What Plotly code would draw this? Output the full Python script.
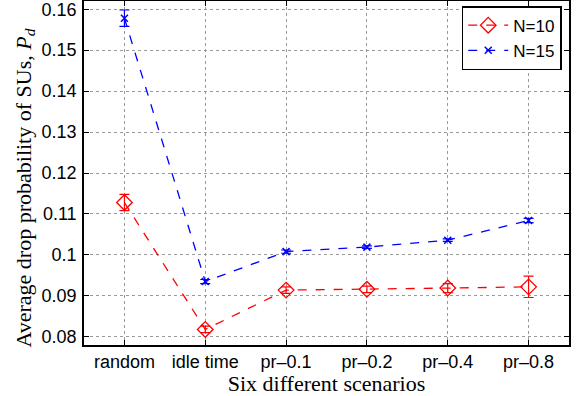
import plotly.graph_objects as go

categories = ["random", "idle time", "pr\u20130.1", "pr\u20130.2", "pr\u20130.4", "pr\u20130.8"]
n10_values = [0.1128, 0.0818, 0.0914, 0.0916, 0.0919, 0.0922]
n10_errors = [0.0020, 0.0008, 0.0008, 0.0008, 0.0011, 0.0026]
n15_values = [0.1578, 0.0935, 0.1008, 0.1019, 0.1036, 0.1084]
n15_errors = [0.0020, 0.0005, 0.0004, 0.0003, 0.0003, 0.0005]
y_ticks = [0.08, 0.09, 0.10, 0.11, 0.12, 0.13, 0.14, 0.15, 0.16]
y_ticktext = ["0.08", "0.09", "0.1", "0.11", "0.12", "0.13", "0.14", "0.15", "0.16"]
x_title = "Six different scenarios"
y_title = "Average drop probability of SUs, <i>P</i><sub><i>d</i></sub>"

fig = go.Figure()
fig.add_trace(go.Scatter(
    x=categories, y=n10_values, name="N=10", mode="lines+markers",
    line=dict(color="#ff0000", dash="dash", width=1.3),
    marker=dict(symbol="diamond-open", size=12, color="#ff0000", line=dict(width=1.3)),
    error_y=dict(type="data", array=n10_errors, color="#ff0000", thickness=1.2, width=5),
))
fig.add_trace(go.Scatter(
    x=categories, y=n15_values, name="N=15", mode="lines+markers",
    line=dict(color="#0000ff", dash="dash", width=1.3),
    marker=dict(symbol="x-thin-open", size=7, color="#0000ff", line=dict(width=1.5, color="#0000ff")),
    error_y=dict(type="data", array=n15_errors, color="#0000ff", thickness=1.2, width=5),
))

axis_common = dict(
    showline=True, linecolor="black", linewidth=1.5, mirror="ticks",
    ticks="inside", ticklen=5, tickcolor="black",
    showgrid=True, gridcolor="#9a9a9a", griddash="dot", gridwidth=1,
    zeroline=False, automargin=False, ticklabeloverflow="allow",
    tickfont=dict(family="Liberation Sans, Arial", size=18, color="black"),
)

fig.update_xaxes(
    **axis_common, type="category", range=[-0.5, 5.5],
    title=dict(text=x_title, standoff=0,
               font=dict(family="Liberation Serif, Times New Roman", size=22, color="black")),
)
fig.update_yaxes(
    **axis_common, range=[0.078, 0.162], tickvals=y_ticks, ticktext=y_ticktext,
    ticklabelstandoff=2,
)

fig.add_annotation(
    text=y_title, xref="paper", yref="paper", x=-0.1216, y=0.455,
    xanchor="center", yanchor="middle", textangle=-90, showarrow=False,
    font=dict(family="Liberation Serif, Times New Roman", size=22, color="black"),
)

fig.update_layout(
    width=576, height=396,
    margin=dict(l=84, r=7, t=1, b=51),
    plot_bgcolor="white", paper_bgcolor="white",
    showlegend=True,
    legend=dict(x=0.985, y=0.985, xanchor="right", yanchor="top",
                bgcolor="white", bordercolor="black", borderwidth=1.5,
                font=dict(family="Liberation Sans, Arial", size=17, color="black"),
                tracegroupgap=0, itemwidth=40),
)

fig.write_html("out.html", config={"displayModeBar": False},
               post_script="document.body.style.margin='0';document.body.style.overflow='hidden';")
